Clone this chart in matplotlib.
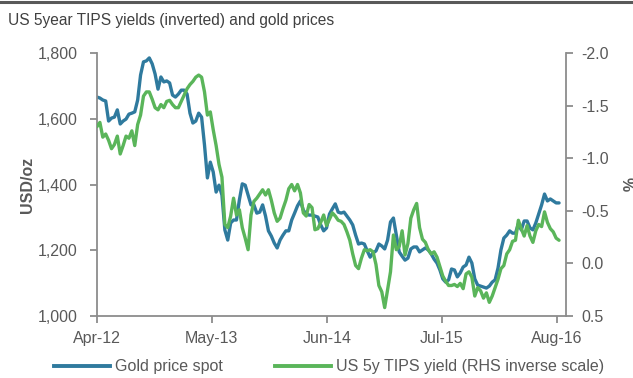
import matplotlib
matplotlib.use("Agg")
import matplotlib.pyplot as plt
import matplotlib.dates as mdates
from matplotlib.lines import Line2D
from matplotlib.ticker import FuncFormatter
import pandas as pd

plt.rcParams['font.family'] = ['Liberation Sans', 'DejaVu Sans']

# Gold spot price, USD/oz (10-day observations from Apr 2012)
gold_price = [
    1666, 1663, 1657, 1654, 1593, 1602, 1605, 1627, 1584, 1593,
    1599, 1614, 1617, 1621, 1657, 1733, 1773, 1776, 1785, 1767,
    1736, 1690, 1727, 1712, 1715, 1709, 1672, 1666, 1675, 1687,
    1687, 1675, 1617, 1587, 1593, 1617, 1605, 1520, 1420, 1468,
    1438, 1377, 1398, 1368, 1262, 1231, 1283, 1292, 1292, 1353,
    1402, 1398, 1368, 1338, 1338, 1313, 1316, 1338, 1304, 1259,
    1243, 1222, 1207, 1231, 1246, 1259, 1259, 1292, 1313, 1335,
    1350, 1322, 1310, 1307, 1307, 1304, 1301, 1277, 1259, 1268,
    1310, 1326, 1341, 1316, 1313, 1316, 1304, 1292, 1277, 1246,
    1219, 1222, 1219, 1198, 1179, 1192, 1198, 1219, 1213, 1204,
    1231, 1286, 1298, 1246, 1195, 1182, 1170, 1176, 1204, 1210,
    1210, 1195, 1201, 1207, 1201, 1189, 1173, 1161, 1140, 1113,
    1103, 1110, 1143, 1140, 1119, 1131, 1149, 1155, 1179, 1161,
    1113, 1094, 1091, 1088, 1085, 1091, 1103, 1110, 1146, 1201,
    1237, 1246, 1259, 1252, 1252, 1280, 1262, 1289, 1289, 1268,
    1262, 1283, 1310, 1338, 1371, 1350, 1356, 1350, 1344, 1344,
]

# US 5-year TIPS yield, %
tips_yield = [
    -1.30, -1.34, -1.20, -1.23, -1.17, -1.09, -1.13, -1.21, -1.04, -1.12,
    -1.21, -1.19, -1.26, -1.12, -1.32, -1.41, -1.59, -1.63, -1.63, -1.56,
    -1.48, -1.46, -1.51, -1.48, -1.54, -1.55, -1.51, -1.48, -1.48, -1.54,
    -1.60, -1.66, -1.70, -1.73, -1.77, -1.79, -1.77, -1.63, -1.41, -1.44,
    -1.27, -1.12, -0.94, -0.82, -0.37, -0.34, -0.45, -0.62, -0.46, -0.51,
    -0.34, -0.24, -0.13, -0.46, -0.59, -0.62, -0.66, -0.70, -0.65, -0.70,
    -0.60, -0.48, -0.40, -0.43, -0.52, -0.60, -0.71, -0.75, -0.69, -0.75,
    -0.67, -0.48, -0.45, -0.56, -0.53, -0.32, -0.33, -0.39, -0.46, -0.36,
    -0.42, -0.48, -0.45, -0.41, -0.40, -0.37, -0.30, -0.22, -0.09, 0.02,
    0.05, -0.05, -0.13, -0.12, -0.13, -0.11, 0.01, 0.21, 0.27, 0.42,
    0.25, 0.08, -0.27, -0.13, -0.16, -0.31, -0.08, -0.19, -0.43, -0.51,
    -0.57, -0.34, -0.23, -0.20, -0.13, -0.09, -0.11, -0.06, 0.03, 0.12,
    0.17, 0.21, 0.21, 0.20, 0.22, 0.19, 0.24, 0.10, 0.08, 0.13,
    0.31, 0.23, 0.26, 0.33, 0.28, 0.37, 0.31, 0.23, 0.15, 0.05,
    0.02, -0.09, -0.13, -0.21, -0.22, -0.41, -0.33, -0.26, -0.36, -0.26,
    -0.20, -0.31, -0.37, -0.35, -0.49, -0.39, -0.33, -0.30, -0.24, -0.22,
]

dates = pd.date_range("2012-04-01", periods=len(gold_price), freq="10D")
x_ticks = pd.to_datetime(["2012-04-01", "2013-05-01", "2014-06-01",
                          "2015-07-01", "2016-08-01"])
left_ticks = [1000, 1200, 1400, 1600, 1800]
right_ticks = [-2.0, -1.5, -1.0, -0.5, 0.0, 0.5]

title = "US 5year TIPS yields (inverted) and gold prices"
gold_label = "Gold price spot"
tips_label = "US 5y TIPS yield (RHS inverse scale)"

BLUE = "#2F7A9E"
GREEN = "#5AB55A"
AXIS = "#8C8C8C"
TEXT = "#595959"
FS = 11.5

fig = plt.figure(figsize=(6.33, 3.78), dpi=100)
ax = fig.add_axes([0.1532, 0.164, 0.741, 0.6958])
ax2 = ax.twinx()

ax.plot(dates, gold_price, color=BLUE, lw=2.4, solid_capstyle="round", zorder=2)
ax2.plot(dates, tips_yield, color=GREEN, lw=2.4, solid_capstyle="round", zorder=3)

ax.set_xlim(pd.Timestamp("2012-04-01"), pd.Timestamp("2016-09-01"))
ax.set_ylim(1000, 1800)
ax2.set_ylim(0.5, -2.0)

ax.set_xticks(x_ticks)
ax.xaxis.set_major_formatter(mdates.DateFormatter("%b-%y"))
ax.set_yticks(left_ticks)
ax.yaxis.set_major_formatter(FuncFormatter(lambda v, p: f"{v:,.0f}"))
ax2.set_yticks(right_ticks)
ax2.yaxis.set_major_formatter(FuncFormatter(lambda v, p: f"{v:.1f}"))

for a in (ax, ax2):
    a.set_facecolor("none")
    a.spines["top"].set_visible(False)
    for s in ("left", "right", "bottom"):
        a.spines[s].set_color(AXIS)
        a.spines[s].set_linewidth(1.3)
    a.tick_params(colors=AXIS, labelcolor=TEXT, labelsize=FS, length=5,
                  width=1.3, direction="out")
ax.spines["right"].set_visible(False)
ax2.spines["left"].set_visible(False)
ax2.spines["bottom"].set_visible(False)
ax.tick_params(axis="x", pad=6)
ax.tick_params(axis="y", pad=9)
ax2.tick_params(axis="y", pad=6)

ax.set_ylabel("USD/oz", color=TEXT, fontsize=FS, fontweight="bold", labelpad=2)
ax2.set_ylabel("%", color=TEXT, fontsize=FS, fontweight="bold",
               rotation=270, labelpad=18)

# Title and rule across the top
fig.text(0.013, 0.947, title, color="#404040", fontsize=11.2,
         ha="left", va="center")
fig.add_artist(Line2D([0, 1], [0.994, 0.994], color="#595959", lw=2.2,
                      transform=fig.transFigure))

handles = [Line2D([], [], color=BLUE, lw=2.8),
           Line2D([], [], color=GREEN, lw=2.8)]
fig.legend(handles, [gold_label, tips_label], loc="center",
           bbox_to_anchor=(0.52, 0.03), ncol=2, frameon=False,
           fontsize=FS, handlelength=3.5, handletextpad=0.3,
           columnspacing=3.3, labelcolor=TEXT)

fig.savefig("out.png", dpi=100)
